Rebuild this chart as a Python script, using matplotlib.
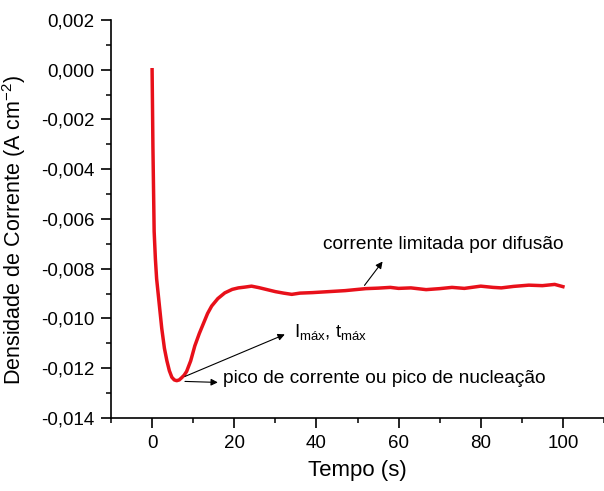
import matplotlib
matplotlib.use("Agg")
import matplotlib.pyplot as plt
from matplotlib.ticker import MultipleLocator, FuncFormatter

plt.rcParams['font.family'] = ['Liberation Sans', 'DejaVu Sans']
plt.rcParams['mathtext.fontset'] = 'custom'
plt.rcParams['mathtext.rm'] = 'Liberation Sans'
plt.rcParams['mathtext.it'] = 'Liberation Sans'

# tempo (s) e densidade de corrente (A cm-2)
tempo = [0, 0.1, 0.2, 0.35, 0.5, 0.8, 1.1, 1.6, 2.35, 3, 3.6, 4.2, 4.8, 5.4,
         6, 6.6, 7.2, 7.8, 8.4, 9.4, 10.4, 11.5, 12.5, 13.5, 14.5, 16,
         17.7, 19.5, 21, 22.5, 24.2, 26, 28, 30, 32, 34, 36, 39, 43, 47, 52,
         55, 58, 60, 63, 66.7, 70, 73, 76, 80, 83, 85, 88, 91.7, 95, 98, 100]
corrente = [0.0, -0.0015, -0.0031, -0.0048, -0.0065, -0.0076, -0.0084,
            -0.0092, -0.0104, -0.0112, -0.0117, -0.0121, -0.01236, -0.01247,
            -0.0125, -0.01247, -0.01238, -0.01228, -0.01213, -0.0117,
            -0.0111, -0.0106, -0.0102, -0.0098, -0.0095, -0.0092, -0.00897,
            -0.00883, -0.00877, -0.00874, -0.00870, -0.00876, -0.00884,
            -0.00892, -0.00898, -0.00903, -0.00898, -0.00896, -0.00892,
            -0.00888, -0.00880, -0.00878, -0.00875, -0.00879, -0.00877,
            -0.00884, -0.00880, -0.00875, -0.00879, -0.00870, -0.00875,
            -0.00877, -0.00871, -0.00866, -0.00868, -0.00863, -0.00872]

fig = plt.figure(figsize=(6.04, 4.91), dpi=100)
ax = fig.add_axes([0.1838, 0.1487, 0.8162, 0.8106])

ax.plot(tempo, corrente, color='#e8101a', lw=2.5, solid_joinstyle='round')

ax.set_xlim(-10, 110)
ax.set_ylim(-0.014, 0.002)
ax.xaxis.set_major_locator(MultipleLocator(20))
ax.xaxis.set_minor_locator(MultipleLocator(10))
ax.yaxis.set_major_locator(MultipleLocator(0.002))
ax.yaxis.set_minor_locator(MultipleLocator(0.001))
ax.yaxis.set_major_formatter(FuncFormatter(lambda v, p: ('%.3f' % v).replace('.', ',').replace('-0,000', '0,000')))

for s in ['top', 'right']:
	ax.spines[s].set_visible(False)
ax.spines['left'].set_linewidth(1.2)
ax.spines['bottom'].set_linewidth(1.2)
ax.tick_params(which='major', direction='out', length=7, width=1.2, labelsize=13.5, pad=5)
ax.tick_params(which='minor', direction='out', length=3.5, width=1.1)

ax.set_xlabel('Tempo (s)', fontsize=16, labelpad=6)
ax.set_ylabel('Densidade de Corrente (A cm$^{-2}$)', fontsize=15.5)
ax.yaxis.set_label_coords(-0.168, 0.472)

arrow = dict(arrowstyle='-|>', color='black', lw=0.8, mutation_scale=10, shrinkA=0, shrinkB=0)
ax.annotate('', xy=(56.1, -0.00771), xytext=(51.7, -0.00867), arrowprops=arrow)
ax.text(41.5, -0.00703, 'corrente limitada por difusão', fontsize=13.8, va='center', ha='left')

ax.annotate('', xy=(32.3, -0.01064), xytext=(8.0, -0.01233), arrowprops=arrow)
ax.text(34.5, -0.01055, r'I$_{\mathrm{máx}}$, t$_{\mathrm{máx}}$', fontsize=13.5, va='center', ha='left')

ax.annotate('', xy=(16.0, -0.01257), xytext=(8.0, -0.01253), arrowprops=arrow)
ax.text(17.2, -0.01241, 'pico de corrente ou pico de nucleação', fontsize=13.8, va='center', ha='left')

fig.savefig('out.png', dpi=100)
